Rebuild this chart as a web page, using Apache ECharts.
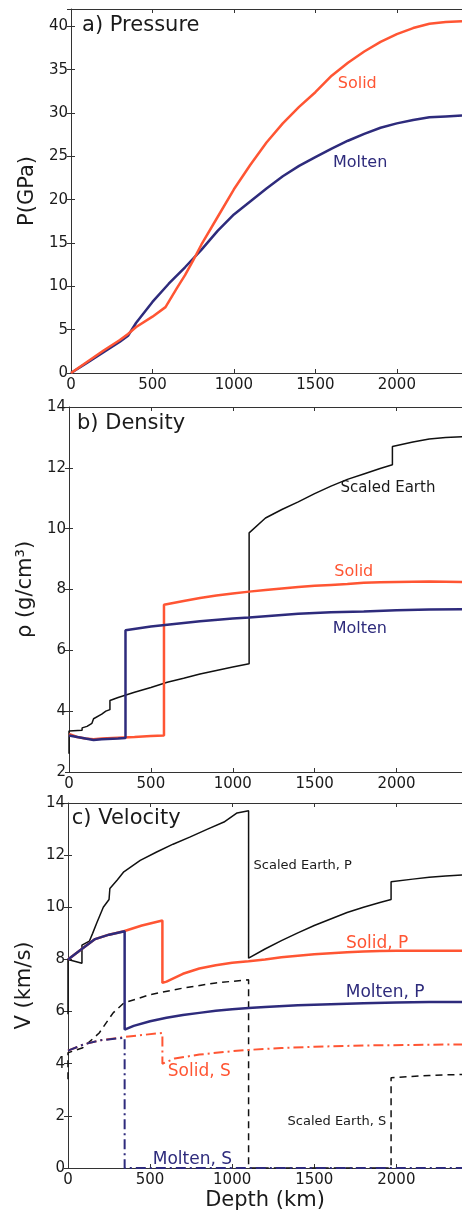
<!DOCTYPE html>
<html><head><meta charset="utf-8">
<script src="https://cdn.jsdelivr.net/npm/echarts@6/dist/echarts.min.js"></script>
<style>html,body{margin:0;padding:0;background:#fff}#c{width:462px;height:1216px}</style>
</head><body><div id="c"></div><script>
// ---------- data ----------
const depthTicksMax = 2400;
// a) Pressure (GPa) vs depth (km)
const pressureSolid = [[0,0],[100,1.3],[200,2.6],[300,3.8],[350,4.5],[400,5.3],[500,6.5],[580,7.6],[650,9.8],[700,11.3],[750,13],[800,14.8],[900,18],[1000,21.2],[1100,24],[1200,26.6],[1300,28.8],[1400,30.7],[1500,32.4],[1600,34.3],[1700,35.8],[1800,37.1],[1900,38.2],[2000,39.1],[2100,39.8],[2200,40.3],[2300,40.5],[2400,40.6]];
const pressureMolten = [[0,0],[100,1.2],[200,2.4],[300,3.6],[350,4.3],[400,5.8],[500,8.2],[600,10.3],[700,12.2],[800,14.2],[900,16.4],[1000,18.3],[1100,19.8],[1200,21.3],[1300,22.7],[1400,23.9],[1500,24.9],[1600,25.9],[1700,26.8],[1800,27.6],[1900,28.3],[2000,28.8],[2100,29.2],[2200,29.5],[2300,29.6],[2400,29.7]];
// b) Density (g/cm3)
const densityEarth = [[0,2.6],[0,3.35],[80,3.37],[80,3.45],[110,3.5],[140,3.6],[150,3.75],[200,3.9],[225,4.0],[250,4.05],[250,4.35],[300,4.45],[400,4.62],[500,4.78],[600,4.95],[700,5.08],[800,5.22],[900,5.34],[1000,5.45],[1100,5.56],[1100,9.86],[1200,10.35],[1300,10.63],[1400,10.88],[1500,11.15],[1600,11.4],[1700,11.62],[1800,11.8],[1900,11.98],[1975,12.1],[1975,12.7],[2100,12.85],[2200,12.95],[2300,13.0],[2400,13.02]];
const densitySolid = [[0,3.25],[50,3.15],[100,3.1],[150,3.08],[200,3.1],[300,3.13],[400,3.15],[500,3.18],[580,3.2],[580,7.5],[700,7.62],[800,7.72],[900,7.8],[1000,7.87],[1100,7.93],[1200,7.98],[1300,8.03],[1400,8.08],[1500,8.12],[1600,8.15],[1700,8.18],[1800,8.22],[1900,8.24],[2000,8.25],[2200,8.26],[2400,8.25]];
const densityMolten = [[0,3.2],[50,3.15],[100,3.1],[150,3.05],[200,3.08],[300,3.1],[345,3.12],[345,6.66],[500,6.78],[600,6.84],[800,6.96],[1000,7.05],[1100,7.08],[1200,7.12],[1400,7.2],[1600,7.25],[1800,7.28],[2000,7.32],[2200,7.34],[2400,7.35]];
// c) Velocity (km/s)
const velEarthP = [[0,5.9],[0,8.0],[85,7.85],[85,8.55],[130,8.7],[150,9.0],[175,9.4],[215,10.0],[250,10.3],[255,10.72],[300,11.05],[340,11.36],[440,11.8],[540,12.12],[640,12.42],[745,12.7],[850,13.0],[950,13.27],[1030,13.62],[1100,13.7],[1100,8.05],[1200,8.4],[1300,8.72],[1400,9.02],[1500,9.3],[1600,9.55],[1700,9.8],[1800,10.0],[1900,10.18],[1968,10.3],[1968,10.98],[2100,11.08],[2200,11.15],[2300,11.2],[2400,11.24]];
const velEarthS = [[0,3.4],[0,4.42],[90,4.61],[190,5.18],[275,5.95],[340,6.33],[500,6.65],[700,6.9],[900,7.1],[1100,7.22],[1100,0],[1968,0],[1968,3.46],[2200,3.55],[2400,3.59]];
const velSolidP = [[0,8.0],[100,8.48],[165,8.78],[250,8.95],[340,9.08],[450,9.3],[575,9.49],[575,7.1],[600,7.15],[700,7.45],[800,7.65],[900,7.78],[1000,7.87],[1100,7.93],[1200,8.0],[1300,8.08],[1400,8.14],[1500,8.2],[1600,8.24],[1700,8.28],[1800,8.3],[1900,8.32],[2000,8.33],[2200,8.33],[2400,8.33]];
const velMoltenP = [[0,8.0],[100,8.48],[165,8.78],[250,8.95],[345,9.08],[345,5.31],[400,5.45],[500,5.63],[600,5.76],[700,5.87],[800,5.95],[900,6.03],[1000,6.09],[1100,6.14],[1200,6.18],[1400,6.24],[1600,6.28],[1800,6.32],[2000,6.35],[2200,6.37],[2400,6.37]];
const velSolidS = [[0,4.5],[100,4.75],[200,4.9],[340,5.02],[450,5.1],[575,5.18],[575,4.0],[650,4.2],[800,4.35],[1000,4.48],[1100,4.53],[1300,4.6],[1500,4.65],[1800,4.7],[2100,4.72],[2400,4.74]];
const velMoltenS = [[0,4.5],[100,4.75],[200,4.9],[345,5.0],[345,0],[2400,0]];
// text labels: [depth, value, text]
const labelsA = [[68,40.1,'a) Pressure'],[1757,33.4,'Solid'],[1775,24.2,'Molten']];
const labelsB = [[49,13.46,'b) Density'],[1948,11.33,'Scaled Earth'],[1739,8.57,'Solid'],[1776,6.72,'Molten']];
const labelsC = [[23,13.42,'c) Velocity'],[1430,11.61,'Scaled Earth, P'],[1883,8.62,'Solid, P'],[1932,6.71,'Molten, P'],[800,3.68,'Solid, S'],[1638,1.76,'Scaled Earth, S'],[758,0.34,'Molten, S']];

// ---------- styling ----------
const FONT = 'DejaVu Sans';
const ORANGE = '#ff5533';
const NAVY = '#2e2b7c';
const BLACK = '#111111';
const TXT = '#1a1a1a';

const grids = [
  {left:71, top:9, width:392, height:364},
  {left:69, top:407, width:394, height:365},
  {left:68, top:803, width:395, height:365}
];
const yRanges = [[0,42,5],[2,14,2],[0,14,2]];
const yNames = ['P(GPa)','ρ (g/cm³)','V (km/s)'];
const plain = v => String(v);

const xAxes = [], yAxes = [];
grids.forEach((g,i)=>{
  xAxes.push({gridIndex:i, type:'value', min:0, max:depthTicksMax, interval:500, position:'bottom',
    axisLine:{show:true,onZero:false,lineStyle:{color:'#333',width:1}},
    axisTick:{show:true,inside:true,length:4,lineStyle:{color:'#333'}},
    axisLabel:{show:true,fontSize:15,color:TXT,fontFamily:FONT,margin:5,showMaxLabel:false,formatter:plain},
    splitLine:{show:false},
    name: i===2 ? 'Depth (km)' : '', nameLocation:'middle', nameGap:22,
    nameTextStyle:{fontSize:21,color:TXT,fontFamily:FONT}});
  xAxes.push({gridIndex:i, type:'value', min:0, max:depthTicksMax, interval:500, position:'top',
    axisLine:{show:true,onZero:false,lineStyle:{color:'#333',width:1}},
    axisTick:{show:true,inside:true,length:4,lineStyle:{color:'#333'}},
    axisLabel:{show:false}, splitLine:{show:false}});
  yAxes.push({gridIndex:i, type:'value', min:yRanges[i][0], max:yRanges[i][1], interval:yRanges[i][2], position:'left',
    axisLine:{show:true,onZero:false,lineStyle:{color:'#333',width:1}},
    axisTick:{show:true,inside:true,length:4,lineStyle:{color:'#333'}},
    axisLabel:{show:true,fontSize:15,color:TXT,fontFamily:FONT,margin:3,showMaxLabel:i!==0,formatter:plain},
    splitLine:{show:false},
    name:yNames[i], nameLocation:'middle', nameGap:33, nameRotate:90,
    nameTextStyle:{fontSize:21,color:TXT,fontFamily:FONT}});
  yAxes.push({gridIndex:i, type:'value', min:yRanges[i][0], max:yRanges[i][1], interval:yRanges[i][2], position:'right',
    axisLine:{show:false},
    axisTick:{show:true,inside:true,length:4,lineStyle:{color:'#333'}},
    axisLabel:{show:false}, splitLine:{show:false}});
});

function line(gi, data, color, width, type){
  return {type:'line', xAxisIndex:gi*2, yAxisIndex:gi*2, data:data, showSymbol:false, symbol:'none',
    silent:true, animation:false, clip:true,
    lineStyle:{color:color,width:width,type:type||'solid'}};
}
function labels(gi, arr, colors, sizes){
  return {type:'scatter', xAxisIndex:gi*2, yAxisIndex:gi*2, symbolSize:0, silent:true, animation:false,
    itemStyle:{opacity:1},
    data: arr.map((l,k)=>({value:[l[0],l[1]], name:l[2],
      label:{show:true, position:'inside', formatter:'{b}', color:colors[k], opacity:1, fontSize:sizes[k], fontFamily:FONT,
        align: k===0 ? 'left' : 'center', verticalAlign:'middle'}}))};
}
const DASH = [7,5];
const DASHDOT = [10,4,2,4];
const series = [
  line(0, pressureMolten, NAVY, 2.5),
  line(0, pressureSolid, ORANGE, 2.5),
  line(1, densityEarth, BLACK, 1.5),
  line(1, densitySolid, ORANGE, 2.5),
  line(1, densityMolten, NAVY, 2.5),
  line(2, velEarthS, BLACK, 1.5, DASH),
  line(2, velSolidS, ORANGE, 2, DASHDOT),
  line(2, velMoltenS, NAVY, 2, DASHDOT),
  line(2, velEarthP, BLACK, 1.5),
  line(2, velSolidP, ORANGE, 2.5),
  line(2, velMoltenP, NAVY, 2.5),
  labels(0, labelsA, [TXT,ORANGE,NAVY],[21,16,16]),
  labels(1, labelsB, [TXT,TXT,ORANGE,NAVY],[21,15,16,16]),
  labels(2, labelsC, [TXT,TXT,ORANGE,NAVY,ORANGE,TXT,NAVY],[21,13,17,17,17,13,17])
];

const chart = echarts.init(document.getElementById('c'), null, {renderer:'canvas'});
chart.setOption({
  backgroundColor:'#ffffff',
  animation:false,
  textStyle:{fontFamily:FONT},
  grid: grids.map(g=>Object.assign({containLabel:false}, g)),
  xAxis: xAxes,
  yAxis: yAxes,
  series: series
});
</script></body></html>
